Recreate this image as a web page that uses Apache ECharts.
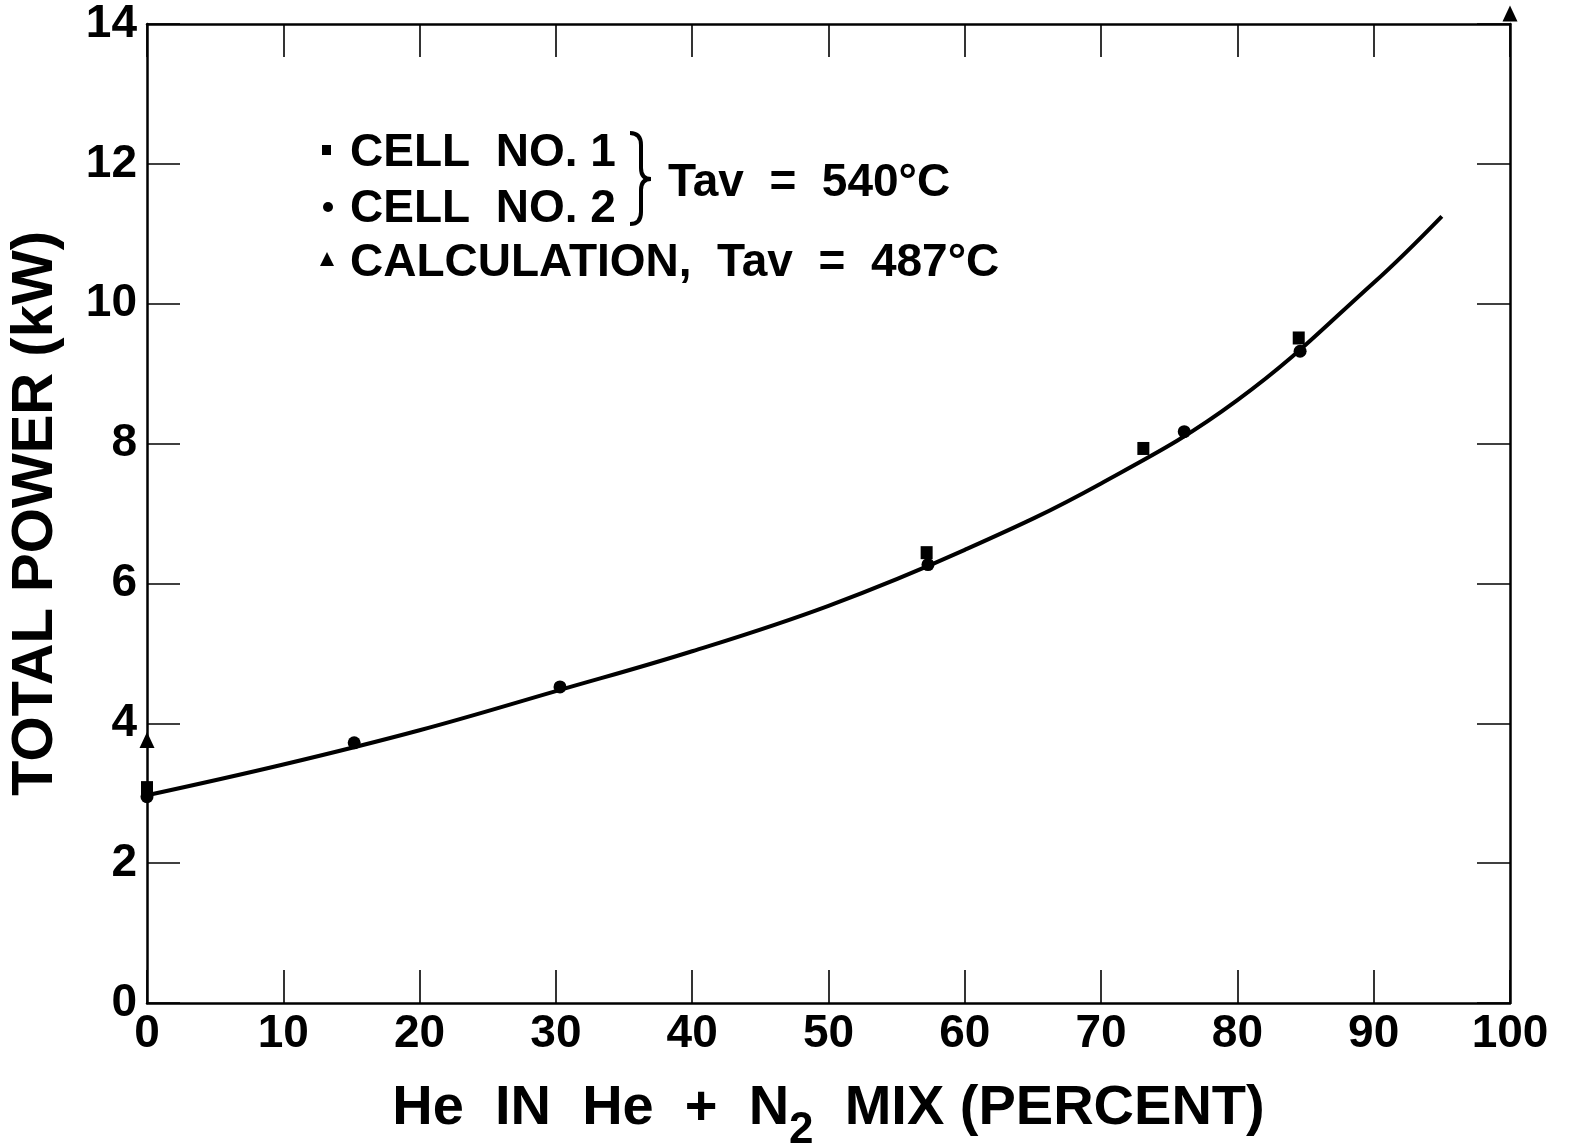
<!DOCTYPE html>
<html>
<head>
<meta charset="utf-8">
<script src="https://cdn.jsdelivr.net/npm/echarts@6/dist/echarts.min.js"></script>
<style>
html,body{margin:0;padding:0;background:#fff;}
#chart{width:1569px;height:1147px;}
</style>
</head>
<body>
<div id="chart"></div>
<script>
// ---- data ----
var xTicks = [0,10,20,30,40,50,60,70,80,90,100];
var yTicks = [0,2,4,6,8,10,12,14];
var curveX = [0,10,20,30,40,50,60,70,80,90,95];
var curveY = [2.97,3.41,3.90,4.46,5.03,5.68,6.48,7.43,8.62,10.30,11.25];
var cell1X = [0,57.2,73.1,84.5];
var cell1Y = [3.08,6.44,7.93,9.51];
var cell2X = [0,15.2,30.3,57.3,76.1,84.6];
var cell2Y = [2.95,3.72,4.52,6.27,8.17,9.32];
var calcX = [0,100];
var calcY = [3.76,14.15];
var legendLabels = ['CELL  NO. 1','CELL  NO. 2','CALCULATION,  Tav  =  487°C'];
var braceLabel = 'Tav  =  540°C';

function zip(a,b){return a.map(function(v,i){return [v,b[i]];});}

var FONT = "'Liberation Sans',Arial,sans-serif";
var chart = echarts.init(document.getElementById('chart'));

var axisLine = {onZero:false,lineStyle:{color:'#000',width:2.5}};
var tick = {inside:true,length:33,lineStyle:{color:'#000',width:1.6}};
var BR = {stroke:'#000',lineWidth:4,fill:null};
var MK = {color:'#000',opacity:1};

chart.setOption({
  backgroundColor:'#fff',
  animation:false,
  grid:{left:147,right:59,top:24,bottom:144,outerBoundsMode:'none',containLabel:false},
  xAxis:[{
    type:'value',min:0,max:100,interval:10,position:'bottom',
    axisLine:axisLine,axisTick:tick,splitLine:{show:false},
    axisLabel:{color:'#000',fontFamily:FONT,fontWeight:'bold',fontSize:46,margin:8,
      formatter:function(v){return xTicks.indexOf(v)>=0?String(v):'';}},
    name:'{a|He  IN  He  +  N}{s|2}{a|  MIX (PERCENT)}',
    nameLocation:'middle',nameGap:62,
    nameTextStyle:{rich:{
      a:{fontFamily:FONT,fontWeight:'bold',fontSize:56,color:'#000'},
      s:{fontFamily:FONT,fontWeight:'bold',fontSize:44,color:'#000',padding:[44,0,0,0]}
    }}
  },{
    type:'value',min:0,max:100,interval:10,position:'top',
    axisLine:axisLine,axisTick:tick,axisLabel:{show:false},splitLine:{show:false}
  }],
  yAxis:[{
    type:'value',min:0,max:14,interval:2,position:'left',
    axisLine:axisLine,axisTick:tick,splitLine:{show:false},
    axisLabel:{color:'#000',fontFamily:FONT,fontWeight:'bold',fontSize:46,margin:10,
      formatter:function(v){return yTicks.indexOf(v)>=0?String(v):'';}},
    name:'TOTAL POWER (kW)',nameLocation:'middle',nameGap:82,nameRotate:90,
    nameTextStyle:{fontFamily:FONT,fontWeight:'bold',fontSize:58,color:'#000'}
  },{
    type:'value',min:0,max:14,interval:2,position:'right',
    axisLine:axisLine,axisTick:tick,axisLabel:{show:false},splitLine:{show:false}
  }],
  series:[
    {type:'line',data:zip(curveX,curveY),smooth:0.4,showSymbol:false,
     lineStyle:{color:'#000',width:4},z:2},
    {type:'scatter',data:zip(cell1X,cell1Y),symbol:'rect',symbolSize:[12,13],
     itemStyle:MK,z:3},
    {type:'scatter',data:zip(cell2X,cell2Y),symbol:'circle',symbolSize:13,
     itemStyle:MK,z:3},
    {type:'scatter',data:zip(calcX,calcY),symbol:'triangle',symbolSize:[15,16],
     itemStyle:MK,clip:false,z:4},
    {type:'line',xAxisIndex:1,yAxisIndex:1,data:[],silent:true}
  ],
  graphic:[
    {type:'rect',shape:{x:322,y:145,width:9,height:10},style:{fill:'#000'}},
    {type:'circle',shape:{cx:328,cy:207,r:5},style:{fill:'#000'}},
    {type:'polygon',shape:{points:[[327,252],[320,266],[334,266]]},style:{fill:'#000'}},
    {type:'text',x:350,y:130,style:{text:legendLabels[0],font:'bold 46px '+FONT,fill:'#000'}},
    {type:'text',x:350,y:186,style:{text:legendLabels[1],font:'bold 46px '+FONT,fill:'#000'}},
    {type:'text',x:350,y:240,style:{text:legendLabels[2],font:'bold 46px '+FONT,fill:'#000'}},
    {type:'text',x:668,y:160,style:{text:braceLabel,font:'bold 46px '+FONT,fill:'#000'}},
    {type:'bezierCurve',shape:{x1:630,y1:133,x2:641,y2:145,cpx1:641,cpy1:133},style:BR},
    {type:'line',shape:{x1:641,y1:145,x2:641,y2:168},style:BR},
    {type:'bezierCurve',shape:{x1:641,y1:168,x2:651,y2:179,cpx1:641,cpy1:179},style:BR},
    {type:'bezierCurve',shape:{x1:651,y1:179,x2:641,y2:190,cpx1:641,cpy1:179},style:BR},
    {type:'line',shape:{x1:641,y1:190,x2:641,y2:212},style:BR},
    {type:'bezierCurve',shape:{x1:641,y1:212,x2:630,y2:224,cpx1:641,cpy1:224},style:BR}
  ]
});
</script>
</body>
</html>
